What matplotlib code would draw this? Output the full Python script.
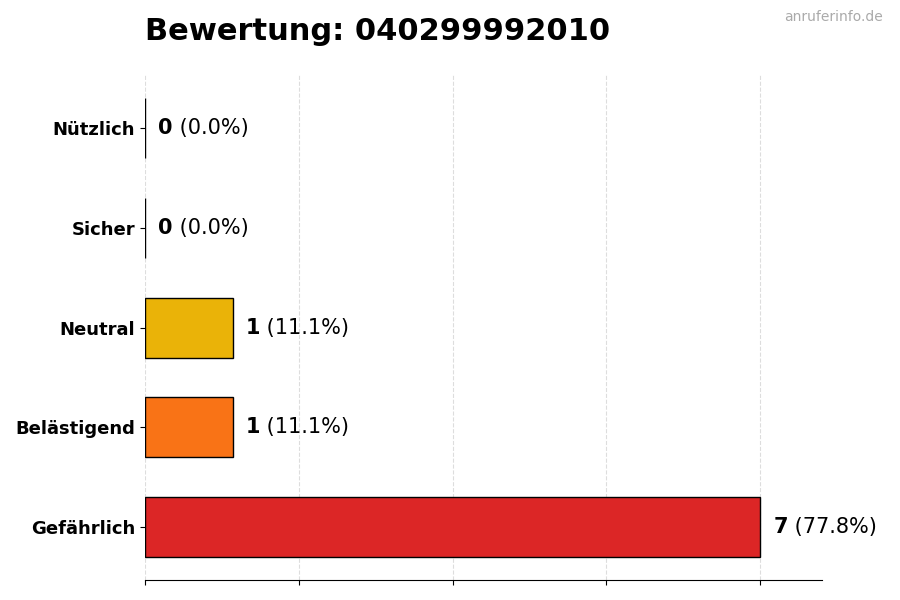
import numpy as np
import matplotlib
matplotlib.use('Agg')
import matplotlib.pyplot as plt

plt.rcParams['font.family'] = ['DejaVu Sans']

phone = '040299992010'
categories = ['Gefährlich', 'Belästigend', 'Neutral', 'Sicher', 'Nützlich']
counts = [7, 1, 1, 0, 0]
colors = ['#DC2626', '#F97316', '#EAB308', '#3B82F6', '#22C55E']

total = sum(counts)
max_val = max(counts)

fig = plt.figure(figsize=(9, 6), dpi=100)
ax = fig.add_axes([0.161, 0.033, 0.752, 0.842])

y = np.arange(len(categories))
ax.barh(y, counts, height=0.6, color=colors, edgecolor='black', linewidth=1, zorder=3)

ax.set_yticks(y)
ax.set_yticklabels(categories, fontsize=13, fontweight='bold')
ax.set_xlim(0, max_val * 1.1)
ax.set_xticks(np.linspace(0, max_val, 5))
ax.set_xticklabels([])
ax.grid(axis='x', linestyle='--', color='#dddddd', linewidth=0.8, zorder=0)
ax.set_axisbelow(True)

for s in ['top', 'right', 'left']:
    ax.spines[s].set_visible(False)

# Werte + Prozent neben den Balken
for yi, c in zip(y, counts):
    pct = c / total * 100 if total else 0
    t = ax.text(c + 0.15, yi, f'{c}', fontsize=15, fontweight='bold',
                va='center', ha='left')
    ax.annotate(f' ({pct:.1f}%)', xy=(1, 0), xycoords=t, fontsize=15,
                va='bottom', ha='left')

fig.text(0.161, 0.933, f'Bewertung: {phone}', fontsize=22, fontweight='bold',
         ha='left', va='baseline')
fig.text(0.981, 0.971, 'anruferinfo.de', fontsize=10, color='#aaaaaa',
         ha='right', va='center')

plt.savefig('out.png', dpi=100, facecolor='white')
plt.close()
